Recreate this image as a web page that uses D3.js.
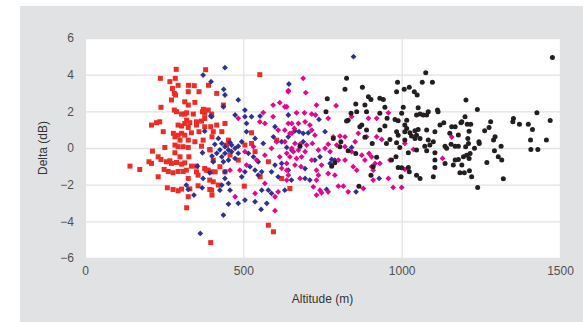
<!DOCTYPE html>
<html>
<head>
<meta charset="utf-8">
<script src="https://cdn.jsdelivr.net/npm/d3@7.9.0/dist/d3.min.js"></script>
<style>
  body { margin: 0; background: #fff; }
  text { font-family: "Liberation Sans", Arial, sans-serif; }
</style>
</head>
<body>
<div id="chart"></div>
<script>
// [altitude (m), delta (dB)]
const redSeries = [
  [282,2.98],[326,3.07],[360,3.07],[286,2.89],[273,2.62],[315,2.52],[326,2.34],[347,2.49],[240,2.22],[282,2.07],
  [289,1.98],[305,1.85],[315,1.85],[321,1.92],[342,1.85],[371,1.98],[378,1.89],[374,2.11],[321,1.52],[331,1.38],
  [352,1.43],[368,1.47],[378,1.61],[210,1.25],[226,1.38],[236,1.43],[294,1.25],[305,1.2],[315,1.34],[326,1.12],
  [352,1.25],[378,1.16],[247,0.89],[336,0.83],[360,0.89],[279,0.8],[284,0.61],[294,0.7],[305,0.8],[315,0.7],
  [373,0.43],[300,0.43],[326,0.43],[347,0.34],[401,0.61],[397,1.16],[405,0.89],[284,0.16],[294,0.07],[310,0.07],
  [326,0.03],[252,0.03],[368,0.1],[394,-0.08],[213,-0.17],[231,-0.48],[240,-0.63],[284,-0.26],[300,-0.48],[328,-0.48],
  [257,-0.75],[268,-0.7],[273,-0.84],[289,-0.79],[305,-0.88],[315,-0.81],[336,-0.99],[352,-0.99],[378,-1.12],[389,-1.21],
  [202,-0.75],[210,-0.84],[142,-0.99],[173,-1.17],[250,-1.17],[263,-1.28],[278,-1.35],[294,-1.28],[310,-1.28],[320,-1.21],
  [352,-1.3],[383,-1.21],[399,-1.3],[231,-1.57],[326,-1.66],[357,-1.48],[394,-1.75],[405,-1.84],[260,-2.17],[278,-2.26],
  [294,-2.33],[305,-2.24],[331,-2.23],[357,-2.06],[326,-2.66],[394,-2.26],[401,-2.57],[321,-3.26],[397,-5.16],
  [288,4.29],[238,3.8],[381,4.27],[552,4.0],[268,3.62],[276,3.25],[327,3.42],[345,3.4],[390,3.42],[294,3.42],[285,3.8],
  [416,2.98],[437,2.34],[389,2.07],[400,1.85],[416,1.25],[442,1.34],[432,0.89],[453,0.43],[447,0.16],[526,0.83],
  [526,0.25],[537,-0.2],[579,-0.75],[505,0.16],[484,-0.66],[621,-1.66],[579,-4.21],[595,-4.57],[395,-0.11],[405,-0.66],
  [411,-1.3],[426,-1.02],[442,-1.3],[458,-0.39],[400,-2.3],[421,-2.02],[503,-2.08],[553,-1.57],[647,-2.21],[605,0.43]
];

const blueSeries = [
  [397,1.74],[378,0.92],[371,-0.26],[401,-0.44],[355,-0.99],[394,-1.35],[373,-1.66],[320,-2.02],[326,-2.26],[370,-2.17],
  [344,-2.57],[364,-4.66],
  [442,2.89],[484,2.62],[400,1.71],[437,2.25],[474,1.8],[505,2.07],[505,1.71],[526,1.71],[553,1.74],[510,1.34],
  [510,0.89],[495,0.34],[537,0.52],[563,0.25],[595,0.61],[600,1.16],[621,0.34],[642,0.61],[653,-0.11],[421,0.52],
  [432,0.25],[442,0.07],[453,-0.11],[463,-0.2],[474,-0.02],[484,-0.29],[442,-0.29],[432,-0.48],[416,-0.29],[405,-0.75],
  [437,-0.75],[453,-0.66],[474,-0.57],[516,-0.29],[532,-0.48],[547,-0.75],[521,-1.02],[537,-1.21],[558,-1.3],[547,-1.48],
  [505,-1.3],[495,-1.57],[442,-1.3],[442,-1.66],[453,-1.93],[432,-2.02],[426,-2.3],[458,-2.3],[600,-0.93],[621,-0.84],
  [589,-1.3],[610,-1.57],[558,-2.3],[579,-2.3],[589,-2.48],[574,-3.02],[537,-2.93],[505,-2.84],[484,-3.02],[453,-3.06],
  [556,-3.35],[437,-3.66],[631,-2.3],[463,0.16],[484,0.1],[426,-0.1],[458,0.3],[410,0.2],
  [644,3.49],[642,1.8],[739,1.56],[676,0.89],[663,0.94],[758,0.89],[689,0.8],[705,0.83],[689,0.34],[637,0.03],
  [842,0.03],[779,-0.62],[774,-0.84],[742,-0.48],[726,-0.66],[695,-1.12],[642,-1.21],[652,-1.75],[695,-1.66],[710,-1.75],
  [763,-2.26],[856,-2.39],[789,-0.66],
  [848,4.98],[442,4.38],[373,3.98],[398,3.62],[438,3.2],[929,-1.66]
];

const magentaSeries = [
  [642,3.07],[594,2.34],[615,2.47],[631,2.25],[484,1.62],[563,1.93],[594,1.71],[552,1.43],[568,1.34],[610,0.98],
  [631,0.98],[642,1.34],[653,0.8],[605,0.34],[631,0.34],[505,-0.2],[510,-0.93],[542,-0.66],[568,-0.39],[589,-0.02],
  [615,-0.48],[637,-0.29],[621,-1.11],[637,-1.21],[658,-0.2],[489,-1.21],[458,-1.21],[568,-1.93],[610,-2.39],[537,-2.48],
  [474,-2.66],[600,-2.66],[600,-3.42],[532,0.07],
  [689,3.8],[642,3.13],[697,3.02],[637,2.25],[731,2.34],[793,2.31],[668,1.92],[693,1.92],[716,1.85],[728,1.8],
  [768,1.62],[842,1.71],[653,1.34],[674,1.34],[695,1.43],[710,1.25],[661,1.07],[647,0.8],[716,0.98],[726,0.7],
  [784,0.61],[805,0.65],[821,0.61],[863,0.8],[889,0.61],[853,0.34],[663,0.25],[679,0.21],[700,0.16],[718,0.25],
  [768,0.21],[795,0.16],[821,0.07],[653,-0.02],[674,-0.11],[695,-0.2],[737,-0.11],[758,-0.02],[774,-0.2],[842,-0.2],
  [874,-0.39],[905,-0.48],[647,-0.48],[668,-0.57],[684,-0.48],[716,-0.66],[747,-0.93],[800,-0.66],[821,-0.66],[884,-0.66],
  [905,-1.02],[637,-0.84],[663,-0.93],[682,-1.02],[731,-1.21],[768,-1.39],[789,-1.48],[847,-1.02],[858,-1.21],[737,-1.48],
  [642,-1.48],[637,-1.75],[679,-1.66],[731,-1.75],[721,-2.12],[800,-2.08],[816,-2.08],[742,-2.3],[747,-2.44],[731,-2.57],
  [768,-2.39],[831,-2.39],[879,-2.21],
  [895,1.62],[921,1.62],[958,1.92],[921,0.61],[937,0.47],[916,-0.84],[931,-0.84],[897,-0.3],[910,-1.21],[958,-1.66],
  [973,-2.15],[1000,-2.15],[1010,0.25],[1037,-0.08],[1010,-1.17],[963,-0.66],[1158,0.6],[1129,-0.57],[910,-1.75]
];

const blackSeries = [
  [826,3.8],[821,3.2],[876,3.31],[765,2.69],[761,1.98],[855,2.4],[884,2.34],[895,2.8],[903,2.65],[858,1.98],
  [889,1.98],[840,1.89],[831,1.52],[826,1.47],[874,1.25],[868,1.16],[889,0.98],[784,0.52],[808,0.34],[805,0.07],
  [884,0.58],[907,0.25],[679,0.1],[831,-0.15],[855,-0.3],[779,-0.99],[789,-0.81],[903,-1.48],[865,-2.08],
  [1076,4.11],[987,3.58],[1065,3.58],[1097,3.58],[984,3.07],[1008,3.2],[1024,3.31],[1040,3.07],[1049,2.89],[931,2.71],
  [942,2.65],[947,2.22],[1005,2.22],[931,1.89],[1052,2.2],[1113,2.07],[1115,1.98],[1000,1.89],[1047,1.8],[1058,1.85],
  [1068,1.8],[1079,1.8],[1084,1.98],[954,1.62],[979,1.56],[989,1.49],[1016,1.52],[1133,1.38],[947,1.2],[1010,1.25],
  [1016,1.07],[1121,1.25],[1152,0.8],[931,0.98],[984,0.89],[1010,0.89],[1042,0.94],[1052,1.01],[1079,0.98],[1105,0.89],
  [1026,0.83],[1031,0.65],[1047,0.7],[1058,0.52],[989,0.7],[963,0.47],[952,0.25],[984,0.29],[1010,0.43],[1042,0.52],
  [1084,0.43],[1100,0.34],[1073,0.1],[1089,0.16],[994,0.03],[1021,-0.26],[1047,-0.11],[1079,-0.15],[1105,-0.26],[1137,0.1],
  [1142,-0.02],[1137,-0.84],[1163,-0.93],[1105,-1.06],[1021,-1.06],[1000,-1.08],[989,-1.06],[921,-0.51],[910,-1.02],[982,-0.48],
  [968,-0.66],[1047,-1.48],[1058,-1.66],[1100,-1.57],[998,-1.57],[1024,-1.3],[1105,-0.66],
  [1476,4.94],[1203,2.62],[1239,2.1],[1427,1.92],[1469,1.5],[1353,1.61],[1351,1.43],[1372,1.3],[1400,1.3],[1413,1.01],
  [1407,0.43],[1408,-0.08],[1430,-0.08],[1457,0.43],[1200,1.71],[1190,1.43],[1187,1.38],[1207,1.3],[1218,1.3],[1213,0.92],
  [1281,1.43],[1276,1.12],[1262,0.94],[1295,0.61],[1290,0.43],[1314,0.1],[1293,-0.15],[1305,-0.48],[1316,-0.66],[1269,-0.79],
  [1321,-1.68],[1240,-2.15],[1245,0.25],[1244,0.34],[1230,-0.02],[1209,0.52],[1211,0.25],[1202,0.07],[1216,-0.3],[1213,-0.57],
  [1205,-0.39],[1195,-0.48],[1179,-0.63],[1169,-0.66],[1190,-0.93],[1198,-1.35],[1184,-1.35],[1214,-1.24],[1221,-1.57],[1158,1.16],
  [1169,1.16],[1179,0.71],[1156,0.2],[1169,0.1],[1179,0.1]
];

const xTicks = [0, 500, 1000, 1500];
const yTicks = [-6, -4, -2, 0, 2, 4, 6];

const width = 588, height = 322;
const margin = { top: 38, right: 28, bottom: 64, left: 85 };
const innerW = width - margin.left - margin.right;
const innerH = height - margin.top - margin.bottom;

const svg = d3.select("#chart").append("svg")
  .attr("width", width)
  .attr("height", height);

// grey panel behind the plot
svg.append("rect")
  .attr("x", 20).attr("y", 6)
  .attr("width", 563).attr("height", height - 6)
  .attr("fill", "#e1e2e4");

const g = svg.append("g")
  .attr("transform", `translate(${margin.left},${margin.top})`);

g.append("rect")
  .attr("width", innerW)
  .attr("height", innerH)
  .attr("fill", "#fff");

const x = d3.scaleLinear().domain([0, 1500]).range([0, innerW]);
const y = d3.scaleLinear().domain([-6, 6]).range([innerH, 0]);

// axes with gridlines
const xAxis = g.append("g")
  .attr("transform", `translate(0,${innerH})`)
  .call(d3.axisBottom(x).tickValues(xTicks).tickFormat(d3.format("d"))
    .tickSizeInner(-innerH).tickSizeOuter(0).tickPadding(8));

const yAxis = g.append("g")
  .call(d3.axisLeft(y).tickValues(yTicks).tickFormat(d3.format("d"))
    .tickSizeInner(-innerW).tickSizeOuter(0).tickPadding(11));

[xAxis, yAxis].forEach(a => {
  a.select(".domain").remove();
  a.selectAll(".tick line").attr("stroke", "#e2e2e2").attr("stroke-width", 1.3);
  a.selectAll(".tick text")
    .attr("fill", "#505050")
    .attr("font-size", 12)
    .attr("font-family", "Liberation Sans, Arial, sans-serif");
});

// points
const diamond = "M0,-2.9L2.9,0L0,2.9L-2.9,0Z";

g.append("g").selectAll("rect")
  .data(redSeries)
  .join("rect")
    .attr("x", d => x(d[0]) - 2.5)
    .attr("y", d => y(d[1]) - 2.5)
    .attr("width", 5)
    .attr("height", 5)
    .attr("fill", "#ee2b24");

g.append("g").selectAll("path")
  .data(blueSeries)
  .join("path")
    .attr("d", diamond)
    .attr("transform", d => `translate(${x(d[0])},${y(d[1])})`)
    .attr("fill", "#2e3192");

g.append("g").selectAll("path")
  .data(magentaSeries)
  .join("path")
    .attr("d", diamond)
    .attr("transform", d => `translate(${x(d[0])},${y(d[1])})`)
    .attr("fill", "#ec008c");

g.append("g").selectAll("circle")
  .data(blackSeries)
  .join("circle")
    .attr("cx", d => x(d[0]))
    .attr("cy", d => y(d[1]))
    .attr("r", 2.5)
    .attr("fill", "#231f20");

// axis titles
svg.append("text")
  .attr("x", margin.left + innerW / 2)
  .attr("y", 303)
  .attr("text-anchor", "middle")
  .attr("font-size", 12)
  .attr("fill", "#333")
  .text("Altitude (m)");

svg.append("text")
  .attr("transform", `translate(47,${margin.top + innerH / 2}) rotate(-90)`)
  .attr("text-anchor", "middle")
  .attr("font-size", 12)
  .attr("fill", "#333")
  .text("Delta (dB)");
</script>
</body>
</html>
